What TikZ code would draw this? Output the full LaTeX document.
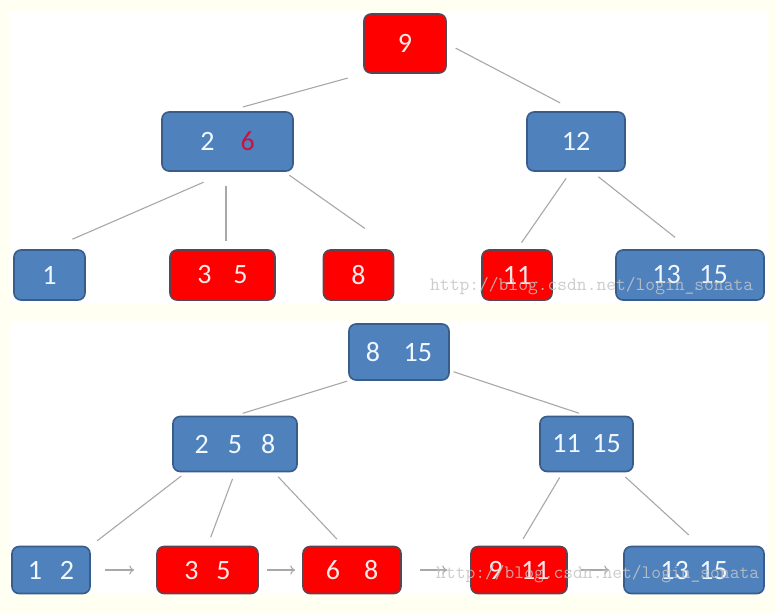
\documentclass[tikz,border=0pt]{standalone}
\usepackage{fontspec}
\setmainfont{Carlito}
\usetikzlibrary{arrows.meta}
\definecolor{paper}{HTML}{FFFFF2}
\definecolor{keyblue}{HTML}{4F81BD}
\definecolor{keyline}{HTML}{385D8A}
\definecolor{keyred}{HTML}{FF0000}
\definecolor{redline}{HTML}{5E4450}
\definecolor{wire}{HTML}{A8A8A8}
\definecolor{hot}{HTML}{C8143C}

\begin{document}
\begin{tikzpicture}[x=1pt,y=-1pt,
  keys/.style={draw=keyline,line width=1.6pt,rounded corners=7pt,fill=keyblue,
    text={rgb,255:red,240;green,248;blue,255},font=\fontsize{28}{28}\selectfont,inner sep=0pt},
  redkeys/.style={keys,draw=redline,fill=keyred,text={rgb,255:red,255;green,232;blue,232}},
  edge/.style={draw=wire,line width=1.1pt},
  link/.style={draw=wire,line width=1.1pt,-{To[length=5pt,width=9pt]}},
  stamp/.style={text={rgb,255:red,196;green,196;blue,196},opacity=.85,
    font=\ttfamily\fontsize{19}{19}\selectfont,inner sep=0pt}
]
  \useasboundingbox (0,0) rectangle (775,614);
  \fill[paper] (0,0) rectangle (775,614);
  \fill[white] (10,12) rectangle (767,303);
  \fill[white] (10,321) rectangle (767,593);

  % first tree
  \node[redkeys,minimum width=82pt,minimum height=59pt] (t9) at (405,43.5) {9};
  \node[keys,minimum width=131pt,minimum height=59pt] (t26) at (227.5,141.5)
    {2\hspace{26pt}\textcolor{hot}{6}};
  \node[keys,minimum width=98pt,minimum height=59pt] (t12) at (576,141.5) {12};
  \node[keys,minimum width=71pt,minimum height=50pt] (t1) at (49.5,275) {1};
  \node[redkeys,minimum width=105pt,minimum height=50pt] (t35) at (222.5,275) {3\hspace{22pt}5};
  \node[redkeys,minimum width=70pt,minimum height=50pt] (t8) at (358.5,275) {8};
  \node[redkeys,minimum width=70pt,minimum height=50pt] (t11) at (517,275) {11};
  \node[keys,minimum width=148pt,minimum height=50pt] (t1315) at (690,275) {13\hspace{18.6pt}15};

  \draw[edge,shorten <=16pt,shorten >=16pt] (t9.south west) -- (t26.north);
  \draw[edge,shorten <=10pt,shorten >=18pt] (t9.east) -- (t12.north);
  \draw[edge,shorten <=26pt,shorten >=25pt] (t26.south) -- (t1.north);
  \draw[edge,shorten <=14pt,shorten >=8pt] (t26.south) ++(-1.5,0) coordinate (t26s) -- (t26s |- t35.north);
  \draw[edge,shorten <=6pt,shorten >=36pt] (t26.-28) -- (t8.north east);
  \draw[edge,shorten <=8pt,shorten >=8pt] (t12.-100) -- (t11.north);
  \draw[edge,shorten <=8pt,shorten >=19pt] (t12.-62) -- (t1315.north);

  % second tree
  \node[keys,minimum width=100pt,minimum height=56pt] (b815) at (399,352) {8\hspace{23.5pt}15};
  \node[keys,minimum width=124pt,minimum height=55pt] (b258) at (235,444)
    {2\hspace{19pt}5\hspace{19pt}8};
  \node[keys,minimum width=93pt,minimum height=55pt] (b1115) at (586.5,444) {11\hspace{11.6pt}15};
  \node[keys,minimum width=78pt,minimum height=47pt] (b12) at (51,570) {1\hspace{18pt}2};
  \node[redkeys,minimum width=101pt,minimum height=47pt] (b35) at (207.5,570) {3\hspace{18pt}5};
  \node[redkeys,minimum width=98pt,minimum height=47pt] (b68) at (352,570) {6\hspace{24pt}8};
  \node[redkeys,minimum width=96pt,minimum height=47pt] (b911) at (519,570) {9\hspace{18.5pt}11};
  \node[keys,minimum width=140pt,minimum height=47pt] (b1315) at (694,570) {13\hspace{10.6pt}15};

  \draw[edge,shorten <=1pt,shorten >=8pt] (b815.south west) -- (b258.north);
  \draw[edge,shorten <=4pt,shorten >=8pt] (b815.-20) -- (b1115.north);
  \draw[edge,shorten <=6pt,shorten >=8pt] (b258.-150) -- (b12.north east);
  \draw[edge,shorten <=7pt,shorten >=9pt] (b258.south) -- (b35.north);
  \draw[edge,shorten <=6pt,shorten >=9pt] (b258.-36) -- (b68.110);
  \draw[edge,shorten <=6pt,shorten >=8pt] (b1115.-130) -- (b911.north);
  \draw[edge,shorten <=7pt,shorten >=16pt] (b1115.-40) -- (b1315.75);

  \draw[link,shorten <=14pt,shorten >=22pt] (b12.east) -- (b35.west);
  \draw[link,shorten <=8pt,shorten >=7pt] (b35.east) -- (b68.west);
  \draw[link,shorten <=18pt,shorten >=23pt] (b68.east) -- (b911.west);
  \draw[link,shorten <=13pt,shorten >=14pt] (b911.east) -- (b1315.west);

  % watermark
  \node[stamp,anchor=base west] (wm1) at (430,290) {http://blog.csdn.net/login\_sonata};
  \node[stamp,anchor=base west] (wm2) at (436,578) {http://blog.csdn.net/login\_sonata};
\end{tikzpicture}
\end{document}
